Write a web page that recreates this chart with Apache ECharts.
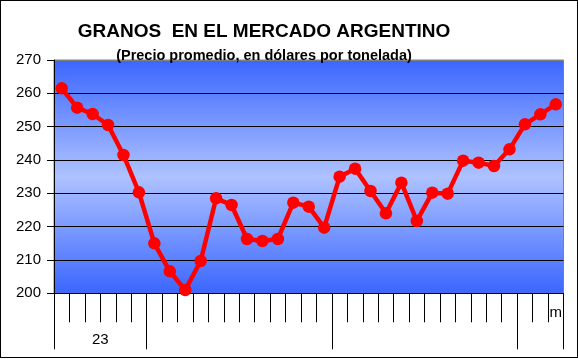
<!DOCTYPE html>
<html>
<head>
<meta charset="utf-8">
<script src="https://cdn.jsdelivr.net/npm/echarts@6/dist/echarts.min.js"></script>
<style>
html,body{margin:0;padding:0;background:#fff;}
#frame{position:absolute;left:0;top:0;width:576px;height:356px;border:1px solid #000;}
#chart{position:absolute;left:0;top:0;width:578px;height:359px;}
</style>
</head>
<body>
<div id="frame"></div>
<div id="chart"></div>
<script>
// Months jul-2023 .. mar-2026 (initials)
const categories = ['j','a','s','o','n','d',
  'e','f','m','a','m','j','j','a','s','o','n','d',
  'e','f','m','a','m','j','j','a','s','o','n','d',
  'e','f','m'];
const prices = [261.5,255.7,253.8,250.5,241.5,230.3,215.0,206.6,201.0,209.7,228.5,226.5,
  216.3,215.7,216.3,227.2,226.0,219.7,235.0,237.4,230.7,224.0,233.2,221.7,230.2,229.9,
  239.8,239.2,238.2,243.2,250.7,253.7,256.7];
// visible month label (only the last one shows)
const monthLabelShown = {32:'m'};
// year group boundaries (category index) and year labels (position in months)
const yearBoundaries = [0,6,18,30,33];
const yearLabels = {3:'23'};
const yTicks = [200,210,220,230,240,250,260,270];

const FONT = 'Liberation Sans, Arial, sans-serif';
const chart = echarts.init(document.getElementById('chart'), null, {renderer:'canvas'});
chart.setOption({
  animation:false,
  backgroundColor:'transparent',
  title:[
    {text:'GRANOS  EN EL MERCADO ARGENTINO', left:259, top:17, textAlign:'center',
     textStyle:{fontFamily:FONT, fontWeight:'bold', fontSize:19, color:'#000'}},
    {text:'(Precio promedio, en dólares por tonelada)', left:259, top:43, textAlign:'center',
     textStyle:{fontFamily:FONT, fontWeight:'bold', fontSize:14.5, color:'#000'}}
  ],
  grid:{left:54, right:14.5, top:60, bottom:65.7, show:true, borderColor:'#808080', borderWidth:1,
    backgroundColor:new echarts.graphic.LinearGradient(0,0,0,1,[
      {offset:0,color:'#3a66ff'},{offset:0.5,color:'#aec2ff'},{offset:1,color:'#3a66ff'}])},
  xAxis:[
    {type:'category', data:categories, position:'bottom', boundaryGap:true,
     axisLine:{show:true, lineStyle:{color:'#000', width:1}},
     axisTick:{show:true, interval:0, length:29, lineStyle:{color:'#000'}},
     axisLabel:{interval:0, margin:12, fontFamily:FONT, fontSize:15, color:'#000',
       formatter:(v,i)=>monthLabelShown[i]||''},
     splitLine:{show:false}},
    {type:'category', data:categories, position:'bottom', boundaryGap:true,
     axisLine:{show:false},
     axisTick:{show:true, interval:(i)=>yearBoundaries.includes(i), length:56, lineStyle:{color:'#000'}},
     axisLabel:{show:false}, splitLine:{show:false}},
    {type:'value', min:0, max:categories.length, interval:3, position:'bottom',
     axisLine:{show:false}, axisTick:{show:false}, splitLine:{show:false},
     axisLabel:{margin:39, fontFamily:FONT, fontSize:15, color:'#000',
       formatter:(v)=>yearLabels[v]||''}}
  ],
  yAxis:{type:'value', min:yTicks[0], max:yTicks[yTicks.length-1], interval:10,
    axisLine:{show:true, lineStyle:{color:'#000'}},
    axisTick:{show:true, length:7, lineStyle:{color:'#000'}},
    axisLabel:{margin:13, fontFamily:FONT, fontSize:15, color:'#000'},
    splitLine:{show:true, lineStyle:{color:['#000','#000','#000','#000','#000','#000','#000','#808080'], width:1}}},
  series:[{type:'line', xAxisIndex:0, data:prices, symbol:'circle', symbolSize:12.5,
    lineStyle:{color:'#ff0000', width:4.5}, itemStyle:{color:'#ff0000'}, z:5}]
});
</script>
</body>
</html>
